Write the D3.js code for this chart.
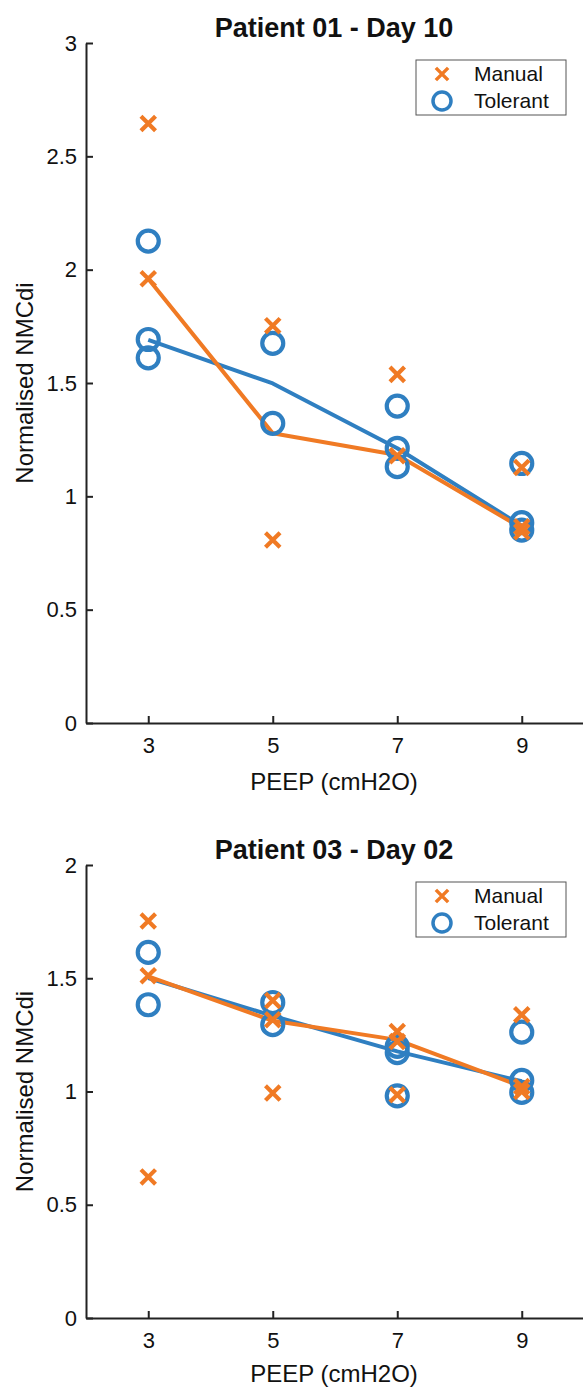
<!DOCTYPE html>
<html>
<head>
<meta charset="utf-8">
<script src="https://cdn.jsdelivr.net/npm/d3@7"></script>
<style>
    body { margin: 0; background: #fff; }
    text { font-family: "Liberation Sans", Arial, sans-serif; fill: #111; }
    .axis-title { font-size: 24px; }
    .plot-title { font-size: 27px; font-weight: bold; }
    .legend-text { font-size: 21px; }
</style>
</head>
<body>
<div id="chart"></div>
<script>
// PEEP levels
const peep = [3, 5, 7, 9];
const xTicks = [3, 5, 7, 9];

// Patient 01 - Day 10
const p1Title = "Patient 01 - Day 10";
const p1YTicks = [0, 0.5, 1, 1.5, 2, 2.5, 3];
const p1ManualX = [3, 3, 5, 5, 7, 7, 9, 9, 9];
const p1ManualY = [2.645, 1.96, 1.753, 0.807, 1.538, 1.179, 1.127, 0.866, 0.844];
const p1TolerantX = [3, 3, 3, 5, 5, 7, 7, 7, 9, 9, 9];
const p1TolerantY = [2.126, 1.692, 1.611, 1.675, 1.322, 1.398, 1.212, 1.131, 1.145, 0.884, 0.851];
const p1ManualLine = [1.96, 1.278, 1.182, 0.86];
const p1TolerantLine = [1.69, 1.498, 1.212, 0.87];

// Patient 03 - Day 02
const p3Title = "Patient 03 - Day 02";
const p3YTicks = [0, 0.5, 1, 1.5, 2];
const p3ManualX = [3, 3, 3, 5, 5, 5, 7, 7, 7, 9, 9, 9];
const p3ManualY = [1.753, 1.511, 0.623, 1.402, 1.317, 0.993, 1.265, 1.221, 0.986, 1.339, 1.022, 1.0];
const p3TolerantX = [3, 3, 5, 5, 7, 7, 7, 9, 9, 9];
const p3TolerantY = [1.614, 1.383, 1.393, 1.295, 1.199, 1.172, 0.981, 1.262, 1.049, 0.996];
const p3ManualLine = [1.508, 1.312, 1.228, 1.022];
const p3TolerantLine = [1.501, 1.334, 1.177, 1.045];

const orange = "#F07A24";
const blue = "#2F7FC1";

const width = 583, height = 1389;
const svg = d3.select("#chart").append("svg")
    .attr("width", width)
    .attr("height", height);

function drawPanel(cfg) {
    let x = d3.scaleLinear().domain([2, 10]).range([86, 584]);
    let y = d3.scaleLinear().domain([0, cfg.yMax]).range([cfg.bottom, cfg.top]);

    let g = svg.append("g");

    // axes
    let xAxis = g.append("g")
        .attr("transform", `translate(0, ${cfg.bottom})`)
        .call(d3.axisBottom(x).tickValues(xTicks).tickSizeInner(-7).tickSizeOuter(0).tickPadding(14));
    let yAxis = g.append("g")
        .attr("transform", `translate(86, 0)`)
        .call(d3.axisLeft(y).tickValues(cfg.yTicks).tickSizeInner(-7).tickSizeOuter(0).tickPadding(9)
            .tickFormat(d3.format("")));

    [xAxis, yAxis].forEach(a => {
        a.select(".domain").attr("stroke", "#222").attr("stroke-width", 2);
        a.selectAll(".tick line").attr("stroke", "#222").attr("stroke-width", 2);
        a.selectAll(".tick text").attr("fill", "#111")
            .style("font-family", "'Liberation Sans', Arial, sans-serif").style("font-size", "22px");
    });

    g.append("text")
        .attr("class", "plot-title")
        .attr("x", 334)
        .attr("y", cfg.top - 6)
        .attr("text-anchor", "middle")
        .text(cfg.title);

    g.append("text")
        .attr("class", "axis-title")
        .attr("x", 334)
        .attr("y", cfg.bottom + cfg.xLabelGap)
        .attr("text-anchor", "middle")
        .text("PEEP (cmH2O)");

    g.append("text")
        .attr("class", "axis-title")
        .attr("transform", `translate(33, ${(cfg.top + cfg.bottom) / 2}) rotate(-90)`)
        .attr("text-anchor", "middle")
        .text("Normalised NMCdi");

    // mean lines
    let line = d3.line().x((d, i) => x(peep[i])).y(d => y(d));
    g.append("path").datum(cfg.tolerantLine)
        .attr("d", line).attr("fill", "none")
        .attr("stroke", blue).attr("stroke-width", 4).attr("stroke-linejoin", "round");
    g.append("path").datum(cfg.manualLine)
        .attr("d", line).attr("fill", "none")
        .attr("stroke", orange).attr("stroke-width", 4).attr("stroke-linejoin", "round");

    // tolerant circles
    g.selectAll(".tol")
        .data(cfg.tolerantY)
        .enter()
        .append("circle")
        .attr("cx", (d, i) => x(cfg.tolerantX[i]))
        .attr("cy", d => y(d))
        .attr("r", 10.5)
        .attr("fill", "none")
        .attr("stroke", blue)
        .attr("stroke-width", 4.2);

    // manual crosses
    let cross = d3.symbol().type(d3.symbolX).size(140);
    g.selectAll(".man")
        .data(cfg.manualY)
        .enter()
        .append("path")
        .attr("d", cross)
        .attr("transform", (d, i) => `translate(${x(cfg.manualX[i])}, ${y(d)})`)
        .attr("fill", "none")
        .attr("stroke", orange)
        .attr("stroke-width", 4.2);

    // legend
    let lg = g.append("g").attr("transform", `translate(416, ${cfg.top + 17})`);
    lg.append("rect")
        .attr("width", 150).attr("height", 55)
        .attr("fill", "#fff").attr("stroke", "#555").attr("stroke-width", 1);
    lg.append("path")
        .attr("d", d3.symbol().type(d3.symbolX).size(100))
        .attr("transform", "translate(26, 14)")
        .attr("fill", "none").attr("stroke", orange).attr("stroke-width", 3.5);
    lg.append("circle")
        .attr("cx", 26).attr("cy", 41).attr("r", 9)
        .attr("fill", "none").attr("stroke", blue).attr("stroke-width", 3.5);
    lg.append("text").attr("class", "legend-text").attr("x", 58).attr("y", 21).text("Manual");
    lg.append("text").attr("class", "legend-text").attr("x", 58).attr("y", 48).text("Tolerant");
}

drawPanel({
    title: p1Title, yMax: 3, yTicks: p1YTicks, top: 43, bottom: 723, xLabelGap: 67,
    manualX: p1ManualX, manualY: p1ManualY,
    tolerantX: p1TolerantX, tolerantY: p1TolerantY,
    manualLine: p1ManualLine, tolerantLine: p1TolerantLine
});

drawPanel({
    title: p3Title, yMax: 2, yTicks: p3YTicks, top: 865, bottom: 1318, xLabelGap: 64,
    manualX: p3ManualX, manualY: p3ManualY,
    tolerantX: p3TolerantX, tolerantY: p3TolerantY,
    manualLine: p3ManualLine, tolerantLine: p3TolerantLine
});
</script>
</body>
</html>
